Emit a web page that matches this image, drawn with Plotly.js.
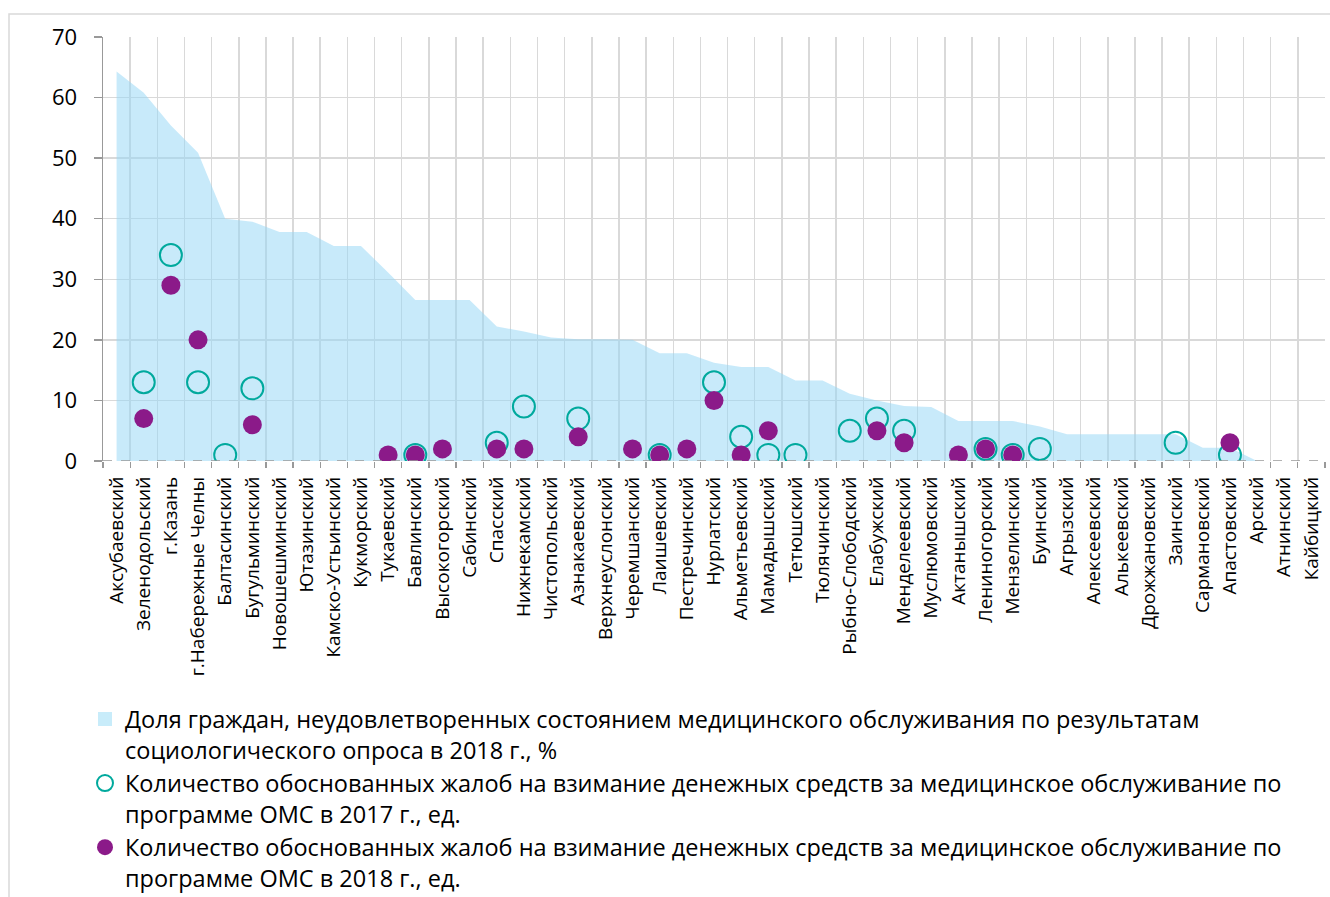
<!DOCTYPE html>
<html>
<head>
<meta charset="utf-8">
<script src="https://cdn.plot.ly/plotly-3.0.1.min.js"></script>
<style>html,body{margin:0;padding:0;background:#fff;}#chart{width:1330px;height:897px;}</style>
</head>
<body>
<div id="chart"></div>
<script>
const categories = ["Аксубаевский","Зеленодольский","г.Казань","г.Набережные Челны","Балтасинский","Бугульминский","Новошешминский","Ютазинский","Камско-Устьинский","Кукморский","Тукаевский","Бавлинский","Высокогорский","Сабинский","Спасский","Нижнекамский","Чистопольский","Азнакаевский","Верхнеуслонский","Черемшанский","Лаишевский","Пестречинский","Нурлатский","Альметьевский","Мамадышский","Тетюшский","Тюлячинский","Рыбно-Слободский","Елабужский","Менделеевский","Муслюмовский","Актанышский","Лениногорский","Мензелинский","Буинский","Агрызский","Алексеевский","Алькеевский","Дрожжановский","Заинский","Сармановский","Апастовский","Арский","Атнинский","Кайбицкий"];

const dissatisfied2018 = [64.3,60.8,55.4,50.9,40.0,39.5,37.8,37.8,35.5,35.5,31.1,26.6,26.6,26.6,22.2,21.4,20.4,20.1,20.1,20.0,17.8,17.8,16.2,15.5,15.5,13.3,13.3,11.1,10.0,9.1,8.9,6.6,6.6,6.6,5.7,4.4,4.4,4.4,4.4,4.4,2.2,2.2,0,0,0];

const complaints2017 = [null,13,34,13,1,12,null,null,null,null,null,1,null,null,3,9,null,7,null,null,1,null,13,4,1,1,null,5,7,5,null,null,2,1,2,null,null,null,null,3,null,1,null,null,null];

const complaints2018 = [null,7,29,20,null,6,null,null,null,null,1,1,2,null,2,2,null,4,null,2,1,2,10,1,5,null,null,null,5,3,null,1,2,1,null,null,null,null,null,null,null,3,null,null,null];

const yTicks = [0,10,20,30,40,50,60,70];

const names = [
  "Доля граждан, неудовлетворенных состоянием медицинского обслуживания по результатам<br>социологического опроса в 2018 г., %",
  "Количество обоснованных жалоб на взимание денежных средств за медицинское обслуживание по<br>программе ОМС в 2017 г., ед.",
  "Количество обоснованных жалоб на взимание денежных средств за медицинское обслуживание по<br>программе ОМС в 2018 г., ед."
];

const FONT = "Open Sans, Noto Sans, DejaVu Sans, sans-serif";
const AREA_COLOR = "rgba(150,215,245,0.52)";

const traces = [
  {
    type: "scatter", mode: "none", x: categories, y: dissatisfied2018,
    fill: "tozeroy", fillcolor: AREA_COLOR,
    name: names[0], showlegend: false, legendgroup: "a"
  },
  {
    // legend entry for the area series (square swatch, no data drawn)
    type: "scatter", mode: "markers", x: [null], y: [null],
    marker: {symbol: "square", size: 14, color: "#C8ECFA"},
    name: names[0], showlegend: true, legendgroup: "a"
  },
  {
    type: "scatter", mode: "markers", x: categories, y: complaints2017,
    marker: {symbol: "circle-open", size: 22, color: "#00A99D", line: {width: 2, color: "#00A99D"}},
    name: names[1]
  },
  {
    type: "scatter", mode: "markers", x: categories, y: complaints2018,
    marker: {symbol: "circle", size: 19, color: "#8B1A89"},
    name: names[2]
  }
];

const layout = {
  width: 1330, height: 897,
  margin: {l: 103, r: 5, t: 37, b: 436, autoexpand: false},
  paper_bgcolor: "#fff", plot_bgcolor: "#fff",
  font: {family: FONT, color: "#000"},
  showlegend: true,
  legend: {
    orientation: "v", x: -18/1222, xanchor: "left", y: -0.557, yanchor: "top",
    font: {size: 23.5, family: FONT, color: "#000"},
    valign: "top",
    itemwidth: 30, tracegroupgap: 0, bgcolor: "rgba(0,0,0,0)"
  },
  xaxis: {
    type: "category", range: [-0.5, 44.5], categoryorder: "array", categoryarray: categories,
    tickangle: -90, tickfont: {size: 19, family: FONT, color: "#000"},
    tickson: "boundaries", ticks: "outside", ticklen: 6, tickcolor: "#999", tickwidth: 1.3,
    ticklabelstandoff: 11,
    showgrid: true, gridcolor: "#d9d9d9", gridwidth: 1.5,
    showline: false, zeroline: false, fixedrange: true
  },
  yaxis: {
    range: [0, 70], tickvals: yTicks, ticktext: yTicks.map(String),
    tickfont: {size: 22, family: FONT, color: "#000"},
    ticks: "outside", ticklen: 8, tickcolor: "#999", tickwidth: 1.5,
    ticklabelstandoff: 12,
    showgrid: true, gridcolor: "#d9d9d9", gridwidth: 1.5,
    showline: true, linecolor: "#999", linewidth: 1.5,
    zeroline: false, fixedrange: true
  },
  shapes: [
    {type: "line", xref: "paper", yref: "y", x0: 0, x1: 1, y0: 0, y1: 0,
     line: {color: "#999", width: 1.5, dash: "dash"}},
    {type: "rect", xref: "paper", yref: "paper", layer: "below",
     x0: -94/1222, x1: 1.01, y0: -436/424 - 0.01, y1: 1 + 23/424,
     line: {color: "#d9d9d9", width: 1.5}, fillcolor: "rgba(0,0,0,0)"}
  ]
};

Plotly.newPlot("chart", traces, layout, {displayModeBar: false, staticPlot: true});
</script>
</body>
</html>
